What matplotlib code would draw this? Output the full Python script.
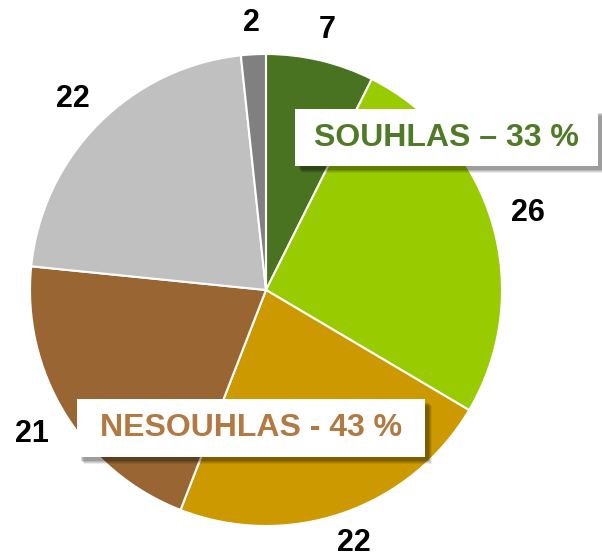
import numpy as np
import matplotlib.pyplot as plt
from matplotlib.patches import Rectangle

plt.rcParams["font.family"] = ["Liberation Sans", "DejaVu Sans"]

# slice shares, labels as printed
values = [7.4, 26.1, 22.4, 20.7, 21.7, 1.7]
labels = ["7", "26", "22", "21", "22", "2"]
colors = ["#4a7321", "#99cc00", "#cc9900", "#996633", "#c0c0c0", "#808080"]

box_texts = ["SOUHLAS – 33 %", "NESOUHLAS - 43 %"]
box_colors = ["#4f7a26", "#b27a42"]

W, H = 602, 557
CX, CY, R = 266, H - 290, 236

fig = plt.figure(figsize=(W / 100, H / 100), dpi=100)
ax = fig.add_axes([0, 0, 1, 1])

wedges, texts = ax.pie(values, labels=labels, colors=colors, startangle=90,
                       counterclock=False, center=(CX, CY), radius=R,
                       labeldistance=1.1, frame=True,
                       wedgeprops=dict(edgecolor="white", linewidth=1.5),
                       textprops=dict(fontsize=22, fontweight="bold", color="black"))
ax.set_xlim(0, W)
ax.set_ylim(0, H)
ax.set_aspect("equal")
ax.axis("off")

# place labels just outside the rim, like "outside end" data labels
gap = 20
for w, t in zip(wedges, texts):
    th = np.deg2rad((w.theta1 + w.theta2) / 2)
    c, s = np.cos(th), np.sin(th)
    hw = 8 * len(t.get_text())
    hh = 11
    d = min(hw / max(abs(c), 1e-6), hh / max(abs(s), 1e-6))
    r = R + gap + d
    t.set_position((CX + r * c, CY + r * s))
    t.set_ha("center")
    t.set_va("center")


def box(x0, y0, x1, y1, text, color):
    # soft shadow, then the white box (pixel coords from top)
    for i, a in enumerate([0.08, 0.10, 0.12, 0.15]):
        off = 7 - i
        ax.add_patch(Rectangle((x0 + off, H - y1 - off), x1 - x0, y1 - y0,
                               facecolor="black", alpha=a, edgecolor="none", zorder=5))
    ax.add_patch(Rectangle((x0, H - y1), x1 - x0, y1 - y0,
                           facecolor="white", edgecolor="none", zorder=6))
    ax.text((x0 + x1) / 2, H - (y0 + y1) / 2, text, color=color, fontsize=23,
            fontweight="bold", ha="center", va="center", zorder=7)


box(295, 109, 598, 166, box_texts[0], box_colors[0])
box(77, 399, 425, 457, box_texts[1], box_colors[1])

fig.savefig("out.png", dpi=100)
